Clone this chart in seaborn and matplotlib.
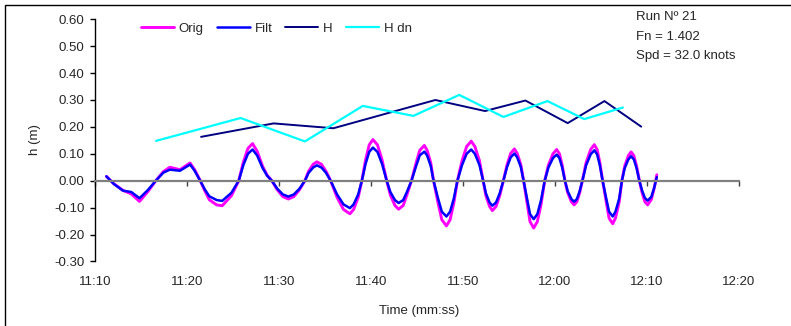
import numpy as np
import pandas as pd
import matplotlib
matplotlib.use("Agg")
import matplotlib.pyplot as plt
from matplotlib.patches import Rectangle
from matplotlib.ticker import FuncFormatter, MultipleLocator
import seaborn as sns

# ---- data (time in seconds, h in metres) ----
wave_t = [671.2, 672.0, 673.0, 673.9, 674.8, 675.7, 676.6, 677.4, 678.1, 679.2,
          680.3, 680.8, 681.4, 681.9, 682.4, 683.2, 683.8, 684.8,
          685.6, 686.1, 686.6, 687.1, 687.6, 688.2, 688.7,
          689.2, 689.8, 690.4, 691.0, 691.6, 692.2,
          692.8, 693.2, 693.7, 694.1, 694.6, 695.1,
          695.6, 696.3, 697.0, 697.7, 698.1, 698.6,
          699.0, 699.4, 699.8, 700.2, 700.7, 701.2,
          701.7, 702.1, 702.6, 703.0, 703.5, 703.9,
          704.4, 704.9, 705.3, 705.8, 706.1, 706.5,
          706.8, 707.3, 707.7, 708.2, 708.6, 709.0,
          709.4, 709.9, 710.4, 710.9, 711.3, 711.8,
          712.2, 712.5, 712.9, 713.2, 713.6, 714.0,
          714.4, 714.8, 715.2, 715.6, 715.9, 716.3,
          716.6, 717.0, 717.3, 717.7, 718.1, 718.5,
          718.9, 719.3, 719.8, 720.2, 720.5, 720.8,
          721.1, 721.4, 721.8, 722.1, 722.4, 722.7,
          723.0, 723.4, 723.9, 724.3, 724.6, 724.9,
          725.2, 725.6, 725.9, 726.3, 726.6, 727.0,
          727.3, 727.6, 728.0, 728.3, 728.6, 728.9,
          729.2, 729.5, 729.8, 730.1, 730.5, 730.8, 731.1]
orig_h = [0.016, -0.011, -0.036, -0.049, -0.077, -0.041, 0.001, 0.034, 0.050, 0.041,
          0.066, 0.041, 0.001, -0.037, -0.071, -0.090, -0.093, -0.056,
          0.000, 0.069, 0.120, 0.138, 0.110, 0.053, 0.020,
          0.000, -0.034, -0.059, -0.068, -0.059, -0.034,
          0.000, 0.035, 0.061, 0.070, 0.061, 0.035,
          0.000, -0.062, -0.107, -0.123, -0.107, -0.062,
          0.000, 0.077, 0.133, 0.153, 0.133, 0.077,
          0.000, -0.053, -0.092, -0.106, -0.092, -0.053,
          0.000, 0.066, 0.113, 0.131, 0.113, 0.066,
          0.000, -0.084, -0.145, -0.168, -0.145, -0.084,
          0.000, 0.074, 0.127, 0.147, 0.127, 0.074,
          0.000, -0.056, -0.096, -0.111, -0.096, -0.056,
          0.000, 0.059, 0.102, 0.118, 0.102, 0.059,
          0.000, -0.088, -0.152, -0.176, -0.152, -0.088,
          0.000, 0.058, 0.100, 0.116, 0.100, 0.058,
          0.000, -0.045, -0.078, -0.090, -0.078, -0.045,
          0.000, 0.067, 0.116, 0.134, 0.116, 0.067,
          0.000, -0.080, -0.139, -0.160, -0.139, -0.080,
          0.000, 0.054, 0.093, 0.107, 0.093, 0.054,
          0.000, -0.045, -0.078, -0.090, -0.070, -0.030, 0.022]
filt_h = [0.016, -0.012, -0.037, -0.042, -0.065, -0.035, 0.001, 0.030, 0.041, 0.037,
          0.060, 0.037, 0.000, -0.032, -0.058, -0.072, -0.075, -0.045,
          0.000, 0.058, 0.100, 0.116, 0.094, 0.047, 0.018,
          0.000, -0.030, -0.051, -0.059, -0.051, -0.030,
          0.000, 0.029, 0.049, 0.057, 0.049, 0.029,
          0.000, -0.051, -0.088, -0.102, -0.088, -0.051,
          0.000, 0.062, 0.107, 0.123, 0.107, 0.062,
          0.000, -0.042, -0.072, -0.083, -0.072, -0.042,
          0.000, 0.054, 0.094, 0.108, 0.094, 0.054,
          0.000, -0.067, -0.115, -0.133, -0.115, -0.067,
          0.000, 0.058, 0.100, 0.116, 0.100, 0.058,
          0.000, -0.047, -0.081, -0.093, -0.081, -0.047,
          0.000, 0.051, 0.087, 0.101, 0.087, 0.051,
          0.000, -0.072, -0.124, -0.143, -0.124, -0.072,
          0.000, 0.049, 0.084, 0.097, 0.084, 0.049,
          0.000, -0.039, -0.068, -0.078, -0.068, -0.039,
          0.000, 0.057, 0.098, 0.113, 0.098, 0.057,
          0.000, -0.067, -0.115, -0.133, -0.115, -0.067,
          0.000, 0.046, 0.079, 0.091, 0.079, 0.046,
          0.000, -0.037, -0.064, -0.074, -0.060, -0.028, 0.013]

h_t = [681.5, 689.4, 695.9, 701.6, 707.0, 712.4, 716.8, 721.4, 725.4, 729.4]
h_val = [0.163, 0.213, 0.195, 0.249, 0.300, 0.259, 0.298, 0.214, 0.296, 0.201]

hdn_t = [676.6, 685.8, 692.8, 699.1, 704.6, 709.6, 714.4, 719.2, 723.2, 727.4]
hdn_val = [0.148, 0.233, 0.146, 0.278, 0.241, 0.319, 0.237, 0.296, 0.229, 0.272]

series_names = ["Orig", "Filt", "H", "H dn"]
series_colors = ["#FF00FF", "#0000FF", "#000080", "#00FFFF"]
info_lines = ["Run Nº 21", "Fn = 1.402", "Spd = 32.0 knots"]

# ---- style ----
sns.set_style("white")
plt.rcParams["font.family"] = ["Liberation Sans", "DejaVu Sans"]
plt.rcParams["font.size"] = 9.5

W, H = 791, 326
fig = plt.figure(figsize=(W / 100, H / 100), dpi=100)
ax_l, ax_r, ax_t, ax_b = 95.4, 738.6, 19.3, 261.4
ax = fig.add_axes([ax_l / W, 1 - ax_b / H, (ax_r - ax_l) / W, (ax_b - ax_t) / H])

df_wave = pd.DataFrame({"t": wave_t, "Orig": orig_h, "Filt": filt_h})
df_h = pd.DataFrame({"t": h_t, "H": h_val})
df_hdn = pd.DataFrame({"t": hdn_t, "H dn": hdn_val})

common = dict(estimator=None, sort=False, solid_joinstyle="round", solid_capstyle="round")
sns.lineplot(data=df_wave, x="t", y="Orig", ax=ax, color=series_colors[0], lw=2.1,
             label=series_names[0], **common)
sns.lineplot(data=df_wave, x="t", y="Filt", ax=ax, color=series_colors[1], lw=1.8,
             label=series_names[1], **common)
sns.lineplot(data=df_h, x="t", y="H", ax=ax, color=series_colors[2], lw=1.4,
             label=series_names[2], **common)
sns.lineplot(data=df_hdn, x="t", y="H dn", ax=ax, color=series_colors[3], lw=1.6,
             label=series_names[3], **common)

ax.set_xlim(670, 740)
ax.set_ylim(-0.30, 0.60)
ax.yaxis.set_major_locator(MultipleLocator(0.1))
ax.yaxis.set_major_formatter(FuncFormatter(lambda v, p: f"{v:.2f}"))
ax.xaxis.set_major_locator(MultipleLocator(10))
ax.xaxis.set_major_formatter(FuncFormatter(lambda v, p: f"{int(round(v)) // 60}:{int(round(v)) % 60:02d}"))

for s in ["top", "right"]:
    ax.spines[s].set_visible(False)
ax.spines["left"].set_color("black")
ax.spines["left"].set_linewidth(1.0)
ax.spines["bottom"].set_position(("data", 0))
ax.spines["bottom"].set_color("#808080")
ax.spines["bottom"].set_linewidth(1.6)

ax.tick_params(axis="y", direction="out", length=3.5, width=1, color="black",
               left=True, labelsize=9.5, pad=4.5)
ax.tick_params(axis="x", direction="out", length=3.5, width=1, color="#404040",
               bottom=True, labelsize=9.5, pad=65)
ax.set_xlabel("")
ax.set_ylabel("")

fig.text(35 / W, 1 - 140 / H, "h (m)", rotation=90, ha="center", va="center", fontsize=9.5)
fig.text(419 / W, 1 - 311 / H, "Time (mm:ss)", ha="center", va="center", fontsize=9.5)

for i, line in enumerate(info_lines):
    fig.text(636 / W, 1 - (17 + 19.5 * i) / H, line, ha="left", va="center", fontsize=9.5)

ax.legend(loc="center left", bbox_to_anchor=(141 / W, 1 - 29 / H), bbox_transform=fig.transFigure,
          ncol=4, frameon=False, handlelength=2.5, handletextpad=0.35, columnspacing=1.0,
          fontsize=9.5, borderaxespad=0, borderpad=0)

fig.patches.append(Rectangle((5 / W, -0.5), 2, 0.5 + 1 - 5 / H, transform=fig.transFigure,
                             fill=False, edgecolor="black", lw=1.0))

fig.savefig("out.png", dpi=100, facecolor="white")
